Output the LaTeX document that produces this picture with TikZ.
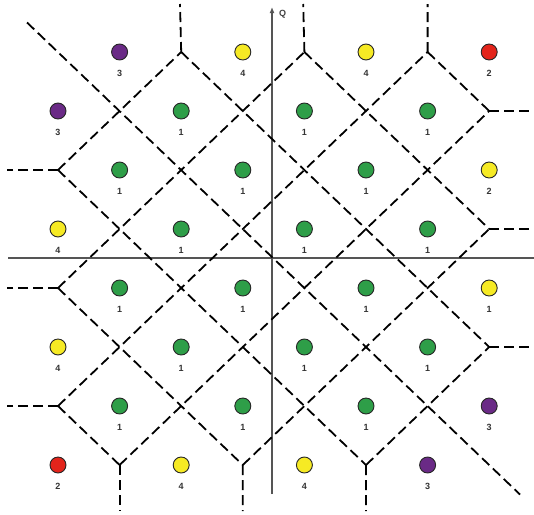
\documentclass[tikz,border=0pt]{standalone}
\usepackage{fontspec}
\setmainfont{Liberation Sans}
\usetikzlibrary{arrows.meta}
\definecolor{cgreen}{HTML}{2E9E48}
\definecolor{cyellow}{HTML}{F6EA24}
\definecolor{cpurple}{HTML}{6A2A86}
\definecolor{cred}{HTML}{E3241B}
\definecolor{caxis}{HTML}{555555}
\begin{document}
\begin{tikzpicture}[x=1pt,y=-1pt,
  dl/.style={line width=1.8pt,dash pattern=on 10pt off 5pt,black},
  axisline/.style={line width=1.2pt,caxis},
  dot/.style={circle,draw=black!85,line width=0.9pt,minimum size=16pt,inner sep=0pt},
  lab/.style={font=\fontsize{9}{9}\selectfont\bfseries,text=black!80,inner sep=0pt}]
\useasboundingbox (0,0) rectangle (534,514);
% grid positions
\foreach \i in {0,...,7}{
  \foreach \j in {0,...,7}{
    \coordinate (p\i\j) at ({58+61.6*\i},{52+59*\j});
  }
}
% outer end points
\coordinate (tl) at (27,22.5);
\coordinate (br) at (520,494.5);
\coordinate (t2) at (180,4);
\coordinate (t4) at (303.2,4);
\coordinate (t6) at (427.6,4);
\coordinate (b1) at (119.6,511);
\coordinate (b3) at (242.8,511);
\coordinate (b5) at (366,511);
\coordinate (l2) at (7,170);
\coordinate (l4) at (7,288);
\coordinate (l6) at (7,406);
\coordinate (r1) at (534,111);
\coordinate (r3) at (534,229);
\coordinate (r5) at (534,347);
\coordinate (ax1) at (8,258);
\coordinate (ax2) at (534,258);
\coordinate (ay1) at (272,494);
\coordinate (ay2) at (272,7);
% axes
\draw[axisline] (ax1) -- (ax2);
\draw[axisline,-{Latex[length=6pt,width=5pt]}] (ay1) -- (ay2);
\node[font=\fontsize{9}{9}\selectfont\bfseries,text=black!75,anchor=west,inner sep=0pt] (qlab) at (279,14) {Q};
% dashed boundaries
\draw[dl] (tl) -- (br);
\draw[dl] (p20) -- (p75);
\draw[dl] (p40) -- (p73);
\draw[dl] (p60) -- (p71);
\draw[dl] (p02) -- (p57);
\draw[dl] (p04) -- (p37);
\draw[dl] (p06) -- (p17);
\draw[dl] (p02) -- (p20);
\draw[dl] (p04) -- (p40);
\draw[dl] (p06) -- (p60);
\draw[dl] (p17) -- (p71);
\draw[dl] (p37) -- (p73);
\draw[dl] (p57) -- (p75);
\draw[dl] (p20) -- (t2);
\draw[dl] (p40) -- (t4);
\draw[dl] (p60) -- (t6);
\draw[dl] (p17) -- (b1);
\draw[dl] (p37) -- (b3);
\draw[dl] (p57) -- (b5);
\draw[dl] (p02) -- (l2);
\draw[dl] (p04) -- (l4);
\draw[dl] (p06) -- (l6);
\draw[dl] (p71) -- (r1);
\draw[dl] (p73) -- (r3);
\draw[dl] (p75) -- (r5);
% constellation points
\foreach \i/\j/\c/\l in {
  1/0/cpurple/3, 3/0/cyellow/4, 5/0/cyellow/4, 7/0/cred/2,
  0/1/cpurple/3, 2/1/cgreen/1, 4/1/cgreen/1, 6/1/cgreen/1,
  1/2/cgreen/1, 3/2/cgreen/1, 5/2/cgreen/1, 7/2/cyellow/2,
  0/3/cyellow/4, 2/3/cgreen/1, 4/3/cgreen/1, 6/3/cgreen/1,
  1/4/cgreen/1, 3/4/cgreen/1, 5/4/cgreen/1, 7/4/cyellow/1,
  0/5/cyellow/4, 2/5/cgreen/1, 4/5/cgreen/1, 6/5/cgreen/1,
  1/6/cgreen/1, 3/6/cgreen/1, 5/6/cgreen/1, 7/6/cpurple/3,
  0/7/cred/2, 2/7/cyellow/4, 4/7/cyellow/4, 6/7/cpurple/3}{
  \node[dot,fill=\c] (d\i\j) at (p\i\j) {};
  \node[lab] (l\i\j) at ([yshift=-21pt]p\i\j) {\l};
}
\end{tikzpicture}
\end{document}
